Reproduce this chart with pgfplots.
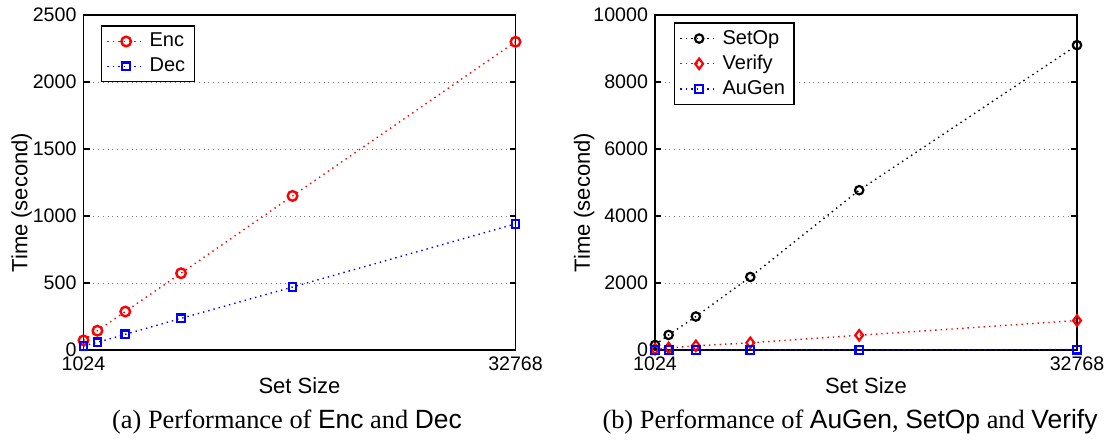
\documentclass[border=0pt]{standalone}
\usepackage{fontspec}
\setmainfont{Liberation Serif}
\setsansfont{Liberation Sans}
\usepackage{pgfplots}
\pgfplotsset{compat=1.18}

\pgfplotsset{
  perf/.style={
    scale only axis, height=167.5pt,
    xmin=1024, xmax=32768, ymin=0,
    xtick={1024,32768},
    tick align=inside, tick pos=both, major tick length=3pt,
    ymajorgrids, major grid style={dotted, gray, line width=0.5pt},
    axis line style={line width=0.75pt},
    every tick/.style={black, line width=0.6pt},
    tick label style={font=\sffamily\fontsize{9.8}{11}\selectfont},
    /pgf/number format/assume math mode=true,
    /pgf/number format/1000 sep={},
    scaled ticks=false,
    label style={font=\sffamily\fontsize{11}{13}\selectfont},
    xlabel style={at={(axis description cs:0.5,-0.131)}, anchor=base},
    xlabel={Set Size}, ylabel={Time (second)},
    clip=false,
    legend cell align=left,
    legend image code/.code={
      \draw[mark repeat=2, mark phase=2] plot coordinates {(0cm,0cm) (0.33cm,0cm) (0.66cm,0cm)};},
    legend style={draw=black, line width=0.7pt, anchor=north west,
      font=\sffamily\fontsize{10}{11}\selectfont, row sep=0pt,
      inner xsep=2.5pt, inner ysep=1.5pt},
  }
}

\begin{document}
\begin{tikzpicture}
\path[use as bounding box] (0,0) rectangle (553.5pt,223.5pt);

\begin{axis}[perf, at={(41.75pt,48.5pt)}, anchor=south west, width=216pt,
  ymax=2500, ytick={0,500,...,2500},
  ylabel style={at={(axis description cs:-0.143,0.44)}, anchor=center},
  legend style={at={(rel axis cs:0.0405,0.969)}}]
\addplot[red, dotted, line width=0.7pt, mark=o, mark size=2.4pt, mark options={solid, line width=1.2pt}]
  coordinates {(1024,72)(2048,144)(4096,287)(8192,573)(16384,1150)(32768,2300)};
\addlegendentry{Enc}
\addplot[blue, dotted, line width=0.7pt, mark=square, mark size=1.9pt, mark options={solid, line width=1.1pt}]
  coordinates {(1024,30)(2048,58)(4096,117)(8192,236)(16384,470)(32768,941)};
\addlegendentry{Dec}
\end{axis}

\begin{axis}[perf, at={(327.5pt,48.5pt)}, anchor=south west, width=211pt,
  ymax=10000, ytick={0,2000,...,10000},
  ylabel style={at={(axis description cs:-0.168,0.44)}, anchor=center},
  legend style={at={(rel axis cs:0.045,0.978)}}]
\addplot[black, dotted, line width=0.7pt, mark=o, mark size=2.1pt, mark options={solid, line width=1.1pt}]
  coordinates {(1024,150)(2048,450)(4096,1000)(8192,2180)(16384,4770)(32768,9100)};
\addlegendentry{SetOp}
\addplot[red, dotted, line width=0.7pt, mark=diamond, mark size=2.6pt, mark options={solid, line width=1.1pt}]
  coordinates {(1024,28)(2048,60)(4096,125)(8192,215)(16384,440)(32768,880)};
\addlegendentry{Verify}
\addplot[blue, dotted, line width=0.7pt, mark=square, mark size=1.9pt, mark options={solid, line width=1.1pt}]
  coordinates {(1024,0.5)(2048,1)(4096,2)(8192,3)(16384,5)(32768,10)};
\addlegendentry{AuGen}
\end{axis}

\node[anchor=base, font=\fontsize{13.2}{15}\selectfont] at (143.5pt,9.5pt)
  {(a) Performance of \textsf{Enc} and \textsf{Dec}};
\node[anchor=base, font=\fontsize{13.2}{15}\selectfont] at (425pt,9.5pt)
  {(b) Performance of \textsf{AuGen}, \textsf{SetOp} and \textsf{Verify}};
\end{tikzpicture}
\end{document}
